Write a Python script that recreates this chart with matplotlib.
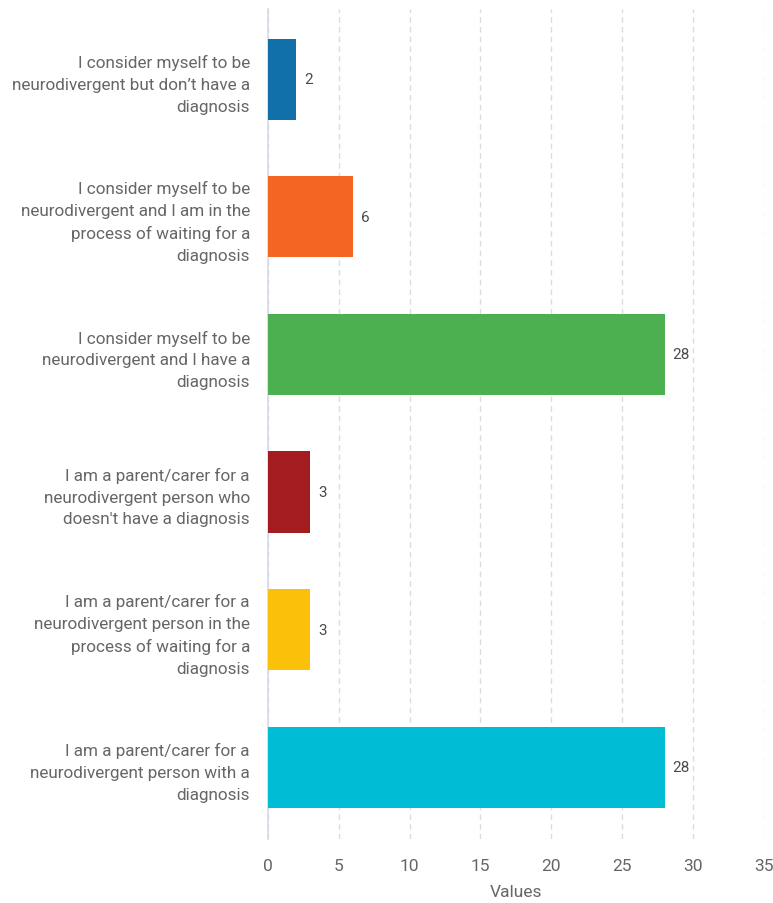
import numpy as np
import matplotlib.pyplot as plt
import matplotlib as mpl

mpl.rcParams['font.family'] = ['Roboto', 'DejaVu Sans']

labels = [
    "I consider myself to be\nneurodivergent but don\u2019t have a\ndiagnosis",
    "I consider myself to be\nneurodivergent and I am in the\nprocess of waiting for a\ndiagnosis",
    "I consider myself to be\nneurodivergent and I have a\ndiagnosis",
    "I am a parent/carer for a\nneurodivergent person who\ndoesn't have a diagnosis",
    "I am a parent/carer for a\nneurodivergent person in the\nprocess of waiting for a\ndiagnosis",
    "I am a parent/carer for a\nneurodivergent person with a\ndiagnosis",
]
values = [2, 6, 28, 3, 3, 28]
colors = ['#1170aa', '#f26522', '#4caf50', '#a31c1f', '#fbc00a', '#00bcd4']
ticks = [0, 5, 10, 15, 20, 25, 30, 35]

text_color = '#666666'

fig = plt.figure(figsize=(7.73, 9.04), dpi=100)
ax = fig.add_axes([0.3467, 0.071, 0.6413, 0.918])

y = np.arange(len(values))
ax.barh(y, values, height=0.59, color=colors, zorder=3)
for yi, v in zip(y, values):
    ax.text(v + 0.55, yi, str(v), va='center', ha='left', fontsize=11, color='#4a4a4a')

ax.set_ylim(len(values) - 0.48, -0.51)
ax.set_xlim(0, 35)
ax.set_xticks(ticks)
ax.set_yticks(y)
ax.set_yticklabels(labels, fontsize=12.3, color=text_color, linespacing=1.55)
ax.tick_params(axis='both', length=0)
ax.tick_params(axis='x', labelsize=12.5, labelcolor=text_color, pad=14)
ax.tick_params(axis='y', pad=13)
ax.grid(axis='x', color='#dcdcdc', linestyle=(0, (4, 3)), linewidth=1, zorder=0)
for s in ['top', 'right', 'bottom']:
    ax.spines[s].set_visible(False)
ax.spines['left'].set_color('#d5d9ea')
ax.spines['left'].set_linewidth(1.2)
ax.set_xlabel('Values', fontsize=12.5, color=text_color, labelpad=8)

plt.savefig('out.png')
